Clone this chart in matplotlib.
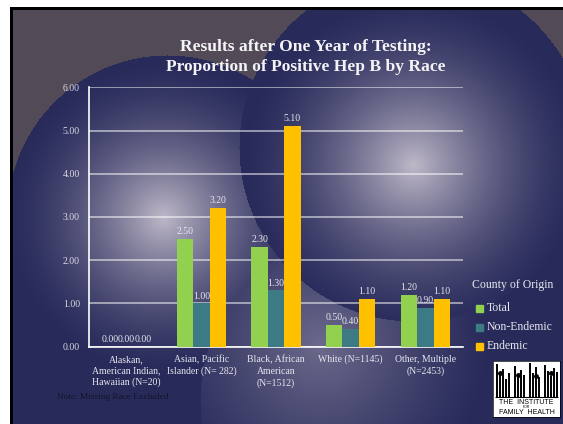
"""Hep B positivity by race after one year of testing — slide-style bar chart."""
import numpy as np
import matplotlib; matplotlib.use("Agg"); import matplotlib.pyplot as plt
from matplotlib.patches import Rectangle
from matplotlib.ticker import FormatStrFormatter

W, H = 563, 424                                     # output size in px (dpi 100)

categories = ["Alaskan,\nAmerican Indian,\nHawaiian (N=20)",
              "Asian, Pacific\nIslander (N= 282)",
              "Black, African\nAmerican\n(N=1512)",
              "White (N=1145)",
              "Other, Multiple\n(N=2453)"]
series = ["Total", "Non-Endemic", "Endemic"]
total       = [0.00, 2.50, 2.30, 0.50, 1.20]
non_endemic = [0.00, 1.00, 1.30, 0.40, 0.90]
endemic     = [0.00, 3.20, 5.10, 1.10, 1.10]
colors = ["#92d050", "#3d7b84", "#ffc000"]
yticks = [0, 1, 2, 3, 4, 5, 6]

SERIF = ["Liberation Serif", "DejaVu Serif"]
TXT = "#e6e6ee"

# ---- slide background: mauve base, navy shapes with radial glows, frame
yy, xx = np.mgrid[0:H, 0:W].astype(float)
mauve = np.array([0x52, 0x4a, 0x56]) / 255
navy = np.array([0x28, 0x2a, 0x5a]) / 255
glow = np.array([0xbe, 0xb8, 0xc8]) / 255
bg = np.ones((H, W, 3)) * mauve
bg[yy > 215] = navy

def blob(img, cx, cy, r, gx, gy, peak, p=1.6):
    inside = (xx - cx)**2 + (yy - cy)**2 <= r**2
    t = np.clip(np.hypot(xx - gx, yy - gy) / r, 0, 1)
    col = navy + (peak - navy) * ((1 - t)**p)[..., None]
    img[inside] = col[inside]

blob(bg, 167, 215, 160, 163, 217, glow)
blob(bg, 370, 400, 170, 320, 345, navy + (glow - navy) * 0.45, 1.2)
blob(bg, 413, 147, 174, 413, 165, glow)
bg[:7, :] = 1; bg[:, :10] = 1
bg[7:10, 10:] = 0; bg[7:, 10:13] = 0

fig = plt.figure(figsize=(W / 100, H / 100), dpi=100)
bax = fig.add_axes([0, 0, 1, 1])
bax.imshow(bg, extent=(0, W, H, 0), aspect="auto", interpolation="bilinear")
bax.axis("off")

# ---- chart
ax = fig.add_axes([89.3 / W, 1 - 346.5 / H, (462.7 - 89.3) / W, (346.5 - 87.3) / H])
ax.patch.set_alpha(0)
x = np.arange(len(categories)); w = 0.22
for i, (vals, c) in enumerate(zip([total, non_endemic, endemic], colors)):
    b = ax.bar(x + (i - 1) * w, vals, w, color=c, zorder=3)
    ax.bar_label(b, fmt="%.2f", padding=2, color=TXT, fontsize=7, family=SERIF)

ax.set_xlim(-0.5, len(categories) - 0.5); ax.set_ylim(0, 6)
ax.set_yticks(yticks)
ax.yaxis.set_major_formatter(FormatStrFormatter("%.2f"))
ax.set_xticks(x); ax.set_xticklabels(categories, linespacing=1.35)
ax.tick_params(axis="y", length=0, pad=6.7, labelsize=7, labelcolor="#d8d8e2")
ax.tick_params(axis="x", length=0, pad=6, labelsize=7, labelcolor=TXT)
for t in ax.get_xticklabels() + ax.get_yticklabels(): t.set_family(SERIF)
ax.yaxis.grid(True, color="white", alpha=0.6, lw=1.2); ax.set_axisbelow(True)
for s in ["top", "right"]: ax.spines[s].set_visible(False)
for s in ["left", "bottom"]: ax.spines[s].set_color("white"); ax.spines[s].set_linewidth(1.2)

fig.text(306 / W, 1 - 56.75 / H, "Results after One Year of Testing:\nProportion of Positive Hep B by Race",
         ha="center", va="center", fontsize=12.6, weight="bold", color="#f4f4f6",
         family=SERIF, linespacing=1.34)
fig.text(57 / W, 1 - 397 / H, "Note: Missing Race Excluded", fontsize=6.7, color="#14142a",
         va="center", family=SERIF)

# ---- legend (manual, like the slide)
fig.text(471.5 / W, 1 - 285 / H, "County of Origin", fontsize=8.5, color=TXT, va="center", family=SERIF)
for k, (name, c) in enumerate(zip(series, colors)):
    yc = 308 + 19 * k
    fig.patches.append(Rectangle((476 / W, 1 - (yc + 3.5) / H), 7 / W, 7 / H, color=c,
                                 transform=fig.transFigure, figure=fig))
    fig.text(487 / W, 1 - yc / H, name, fontsize=8.5, color=TXT, va="center", family=SERIF)

# ---- institute logo (bottom right)
lg = fig.add_axes([493 / W, 1 - 417 / H, 67 / W, 56 / H])
lg.set_xlim(0, 67); lg.set_ylim(56, 0); lg.set_facecolor("white")
lg.set_xticks([]); lg.set_yticks([])
for s in lg.spines.values(): s.set_linewidth(0.5)
bar_x = [4, 7, 10, 13, 16, 22, 25, 28, 31, 37, 40, 43, 46, 52, 55, 58, 61, 64]
bar_top = [3, 14, 8, 18, 12, 5, 16, 9, 14, 2, 12, 6, 16, 4, 10, 15, 7, 11]
lg.vlines(bar_x, bar_top, 36, color="black", lw=1.4)
lg.plot([7, 25, 43, 58], [12, 14, 15, 12], "o", color="black", ms=2.5)
lg.hlines(36, 2, 65, color="black", lw=0.8)
lg.text(33.5, 41.5, "THE  INSTITUTE", ha="center", va="center", fontsize=5, family="Liberation Sans")
lg.text(33.5, 46.5, "FOR", ha="center", va="center", fontsize=2.5, family="Liberation Sans")
lg.text(33.5, 52, "FAMILY  HEALTH", ha="center", va="center", fontsize=5, family="Liberation Sans")

fig.savefig("out.png", dpi=100)
